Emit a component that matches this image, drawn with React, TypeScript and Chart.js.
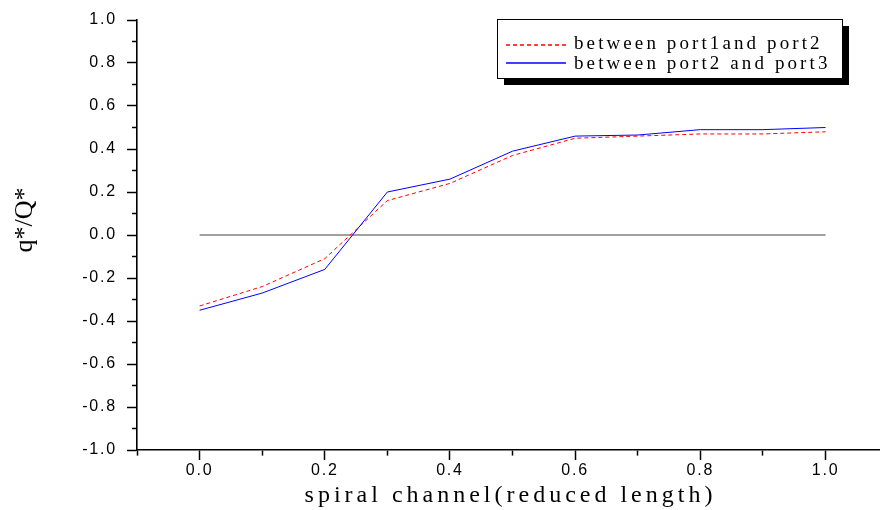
import React, { useEffect, useRef } from 'react';
import { Chart, registerables } from 'chart.js';

Chart.register(...registerables);

const xValues = [0.0, 0.1, 0.2, 0.3, 0.4, 0.5, 0.6, 0.7, 0.8, 0.9, 1.0];
const port12 = [-0.33, -0.24, -0.11, 0.16, 0.24, 0.37, 0.45, 0.46, 0.47, 0.47, 0.48];
const port23 = [-0.35, -0.27, -0.16, 0.2, 0.26, 0.39, 0.46, 0.465, 0.49, 0.49, 0.5];
const zeroLineX = [0.0, 1.0];
const zeroLineY = [0, 0];
const seriesLabels = ['between port1and port2', 'between port2 and port3'];
const xTitle = 'spiral channel(reduced length)';
const yTitle = 'q*/Q*';

const RED = 'rgb(255, 0, 0)';
const BLUE = 'rgb(0, 0, 255)';

const tenth = (v: number) => Math.round(v * 10);

const titlesAndLegend = {
  id: 'titlesAndLegend',
  beforeDraw(chart: any) {
    chart.ctx.letterSpacing = '1.8px';
  },
  beforeDatasetsDraw(chart: any) {
    chart.ctx.letterSpacing = '0px';
  },
  afterDraw(chart: any) {
    const ctx = chart.ctx as CanvasRenderingContext2D;
    const area = chart.chartArea;
    ctx.save();
    ctx.fillStyle = '#000';
    // x title
    ctx.font = '24px "Liberation Serif"';
    (ctx as any).letterSpacing = '4px';
    ctx.textAlign = 'center';
    ctx.textBaseline = 'alphabetic';
    ctx.fillText(xTitle, (area.left + area.right) / 2 + 2, 502);
    // y title
    ctx.save();
    ctx.translate(32, 220);
    ctx.rotate(-Math.PI / 2);
    ctx.font = '26px "Liberation Serif"';
    (ctx as any).letterSpacing = '0px';
    ctx.fillText(yTitle, 0, 0);
    ctx.restore();

    // legend box with shadow
    const bx = 497, by = 19, bw = 345, bh = 59;
    ctx.fillStyle = '#000';
    ctx.fillRect(bx + 7, by + 7, bw, bh);
    ctx.fillStyle = '#fff';
    ctx.fillRect(bx, by, bw, bh);
    ctx.strokeStyle = '#000';
    ctx.lineWidth = 1;
    ctx.strokeRect(bx + 0.5, by + 0.5, bw, bh);

    const meta = [chart.getDatasetMeta(1), chart.getDatasetMeta(0)];
    const rows = [
      { y: 45, label: seriesLabels[0], base: 49 },
      { y: 63, label: seriesLabels[1], base: 69 },
    ];
    rows.forEach((r, i) => {
      const ds = chart.data.datasets[meta[i].index];
      ctx.save();
      ctx.beginPath();
      ctx.setLineDash(ds.borderDash || []);
      ctx.strokeStyle = ds.borderColor;
      ctx.lineWidth = 1.3;
      ctx.moveTo(506, r.y);
      ctx.lineTo(566, r.y);
      ctx.stroke();
      ctx.restore();
      ctx.fillStyle = '#000';
      ctx.font = '19px "Liberation Serif"';
      (ctx as any).letterSpacing = '3.1px';
      ctx.textAlign = 'left';
      ctx.textBaseline = 'alphabetic';
      ctx.fillText(r.label, 574, r.base);
    });
    ctx.restore();
    (ctx as any).letterSpacing = '0px';
  },
};

export default function App() {
  const canvasRef = useRef<HTMLCanvasElement | null>(null);

  useEffect(() => {
    if (!canvasRef.current) return;
    const chart = new Chart(canvasRef.current, {
      type: 'line',
      data: {
        datasets: [
          {
            label: seriesLabels[1],
            data: xValues.map((x, i) => ({ x, y: port23[i] })),
            borderColor: BLUE,
            borderWidth: 1,
            pointRadius: 0,
            fill: false,
            tension: 0,
            order: 0,
          },
          {
            label: seriesLabels[0],
            data: xValues.map((x, i) => ({ x, y: port12[i] })),
            borderColor: RED,
            borderWidth: 1,
            borderDash: [4, 3],
            pointRadius: 0,
            fill: false,
            tension: 0,
            order: 1,
          },
          {
            label: 'zero',
            data: zeroLineX.map((x, i) => ({ x, y: zeroLineY[i] })),
            borderColor: '#808080',
            borderWidth: 1.5,
            pointRadius: 0,
            fill: false,
            order: 2,
          },
        ],
      },
      options: {
        animation: false,
        responsive: true,
        maintainAspectRatio: false,
        layout: { padding: { top: 20, left: 0, right: 0, bottom: 0 } },
        plugins: {
          legend: { display: false },
          tooltip: { enabled: false },
        },
        scales: {
          x: {
            type: 'linear',
            min: -0.1,
            max: 1.087,
            afterFit: (s: any) => {
              s.height = 60;
            },
            border: { display: true, color: '#000', width: 1.6 },
            grid: {
              drawOnChartArea: false,
              drawTicks: true,
              tickLength: 10,
              tickColor: '#000',
              tickWidth: 1.5,
              tickBorderDash: (c: any) => (tenth(c.tick.value) % 2 !== 0 ? [5, 50] : []),
            },
            ticks: {
              stepSize: 0.1,
              includeBounds: false,
              autoSkip: false,
              maxRotation: 0,
              padding: 1,
              color: '#000',
              font: { family: '"Liberation Sans"', size: 16 },
              callback: (v: any) => {
                const k = tenth(Number(v));
                return k % 2 !== 0 || k < 0 ? '' : (k / 10).toFixed(1);
              },
            },
          },
          y: {
            type: 'linear',
            min: -1,
            max: 1,
            afterFit: (s: any) => {
              s.width = 137;
            },
            border: { display: true, color: '#000', width: 1.6 },
            grid: {
              drawOnChartArea: false,
              drawTicks: true,
              tickLength: 10,
              tickColor: '#000',
              tickWidth: 1.5,
              tickBorderDash: (c: any) => (tenth(c.tick.value) % 2 !== 0 ? [5, 5] : []),
              tickBorderDashOffset: (c: any) => (tenth(c.tick.value) % 2 !== 0 ? 5 : 0),
            },
            ticks: {
              stepSize: 0.1,
              autoSkip: false,
              padding: 10,
              color: '#000',
              font: { family: '"Liberation Sans"', size: 16 },
              callback: (v: any) => {
                const k = tenth(Number(v));
                return k % 2 !== 0 ? '' : (k / 10).toFixed(1);
              },
            },
          },
        },
      },
      plugins: [titlesAndLegend],
    });
    return () => chart.destroy();
  }, []);

  return (
    <div style={{ position: 'absolute', left: 0, top: 0, width: 880, height: 510, background: '#fff' }}>
      <canvas ref={canvasRef} />
    </div>
  );
}
